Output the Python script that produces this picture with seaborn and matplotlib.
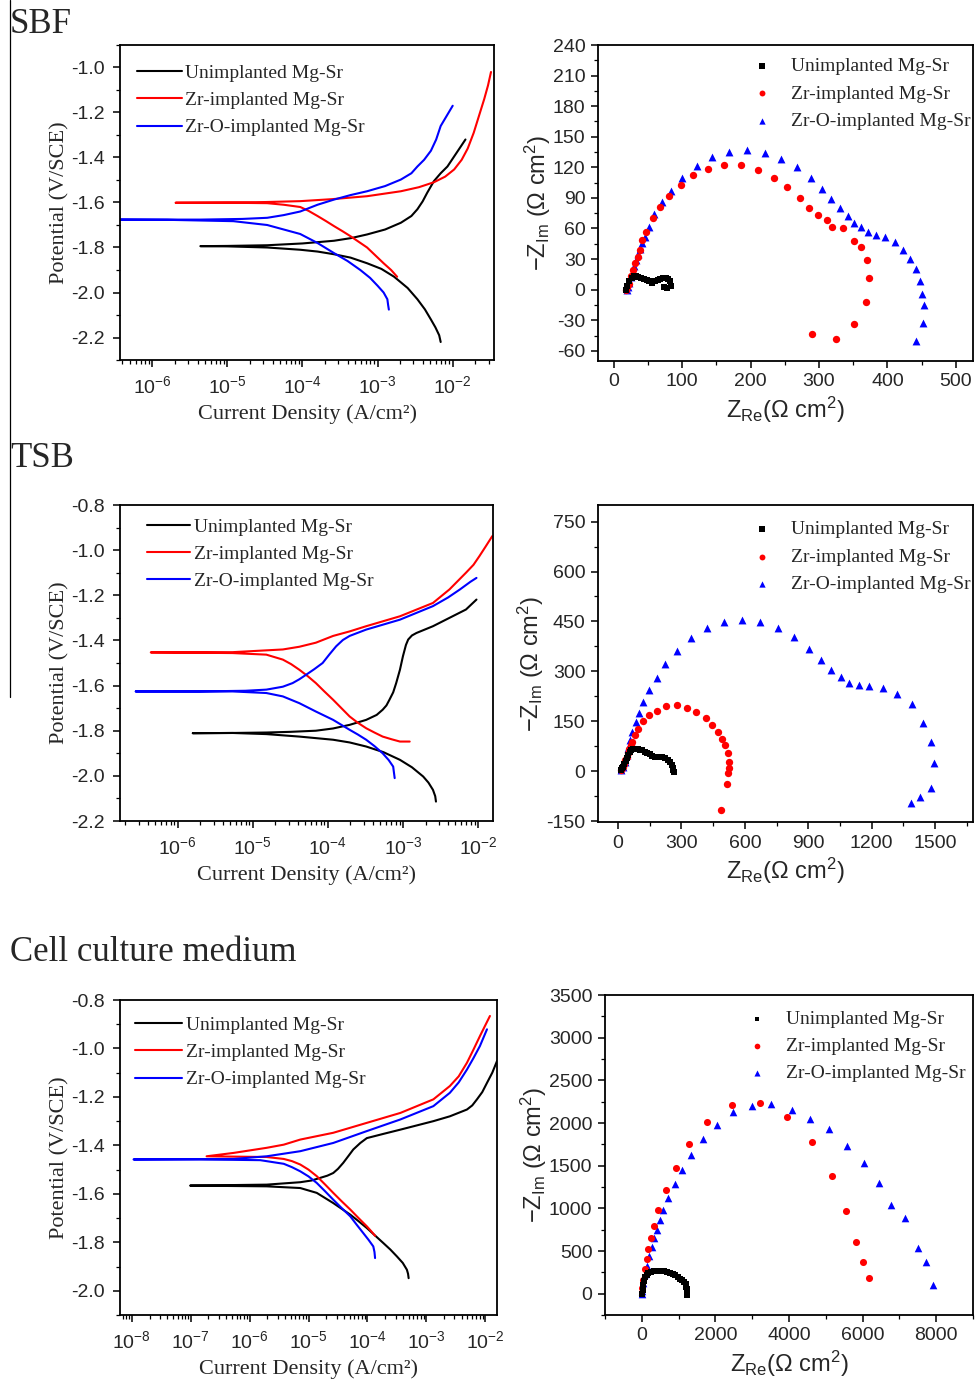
import numpy as np
import pandas as pd
import matplotlib
matplotlib.use('Agg')
import matplotlib.pyplot as plt
import seaborn as sns
from matplotlib.ticker import LogLocator, MultipleLocator, NullFormatter, FormatStrFormatter, FixedLocator
from matplotlib.lines import Line2D

# ---------------- labels ----------------
SERIES = ['Unimplanted Mg-Sr', 'Zr-implanted Mg-Sr', 'Zr-O-implanted Mg-Sr']
COLORS = ['black', 'red', 'blue']
MARKERS = ['s', 'o', '^']
PANEL_TITLES = ['SBF', 'TSB', 'Cell culture medium']
POL_DECADES = [[-6, -5, -4, -3, -2], [-6, -5, -4, -3, -2], [-8, -7, -6, -5, -4, -3, -2]]

# ---------------- polarization curves (log10 current density, potential V/SCE) ----------------
# SBF
SBF_UN_LOGI = [-2.16, -2.18, -2.23, -2.29, -2.37, -2.47, -2.6, -2.78, -2.95, -3.14, -3.36, -3.58, -3.8, -4.03, -4.47, -5.0, -5.36, -5.0, -4.47, -4.0, -3.58, -3.35, -3.14, -2.9, -2.69, -2.55, -2.47, -2.4, -2.34, -2.25, -2.16, -2.07, -1.98, -1.89, -1.83]
SBF_UN_E = [-2.22, -2.19, -2.155, -2.12, -2.075, -2.03, -1.98, -1.93, -1.895, -1.87, -1.845, -1.83, -1.818, -1.81, -1.80, -1.795, -1.794, -1.793, -1.79, -1.782, -1.77, -1.758, -1.742, -1.72, -1.69, -1.66, -1.63, -1.595, -1.557, -1.505, -1.47, -1.44, -1.395, -1.35, -1.32]
SBF_ZR_LOGI = [-2.74, -2.82, -2.92, -3.03, -3.14, -3.25, -3.36, -3.47, -3.58, -3.69, -3.80, -3.92, -4.03, -4.25, -4.47, -5.0, -5.69, -5.0, -4.5, -4.03, -3.6, -3.14, -2.69, -2.45, -2.25, -2.1, -1.98, -1.88, -1.80, -1.72, -1.65, -1.58, -1.53, -1.49]
SBF_ZR_E = [-1.93, -1.90, -1.87, -1.835, -1.80, -1.775, -1.75, -1.727, -1.705, -1.682, -1.66, -1.637, -1.62, -1.61, -1.603, -1.601, -1.601, -1.600, -1.598, -1.594, -1.585, -1.572, -1.55, -1.532, -1.51, -1.485, -1.453, -1.41, -1.36, -1.29, -1.215, -1.14, -1.08, -1.02]
SBF_ZRO_LOGI = [-2.85, -2.86, -2.87, -2.92, -3.0, -3.1, -3.23, -3.4, -3.58, -3.80, -4.03, -4.25, -4.47, -4.92, -5.80, -6.43, -5.80, -5.36, -4.8, -4.47, -4.25, -4.03, -3.80, -3.58, -3.36, -3.14, -2.9, -2.69, -2.55, -2.47, -2.38, -2.29, -2.22, -2.16, -2.08, -2.0]
SBF_ZRO_E = [-2.076, -2.055, -2.03, -2.0, -1.97, -1.935, -1.90, -1.86, -1.825, -1.78, -1.74, -1.72, -1.70, -1.683, -1.677, -1.676, -1.676, -1.676, -1.673, -1.668, -1.656, -1.64, -1.61, -1.587, -1.567, -1.55, -1.527, -1.498, -1.47, -1.44, -1.41, -1.37, -1.32, -1.26, -1.215, -1.17]
# TSB
TSB_UN_LOGI = [-2.56, -2.57, -2.6, -2.66, -2.73, -2.88, -3.04, -3.26, -3.49, -3.71, -3.93, -4.38, -4.82, -5.27, -5.8, -5.27, -4.82, -4.5, -4.16, -3.93, -3.71, -3.49, -3.35, -3.27, -3.22, -3.18, -3.13, -3.09, -3.04, -3.0, -2.96, -2.93, -2.88, -2.82, -2.6, -2.38, -2.16, -2.02]
TSB_UN_E = [-2.114, -2.09, -2.062, -2.03, -2.003, -1.962, -1.929, -1.895, -1.87, -1.852, -1.84, -1.826, -1.815, -1.81, -1.811, -1.81, -1.808, -1.805, -1.80, -1.79, -1.774, -1.752, -1.73, -1.707, -1.688, -1.663, -1.63, -1.589, -1.53, -1.47, -1.42, -1.396, -1.378, -1.367, -1.337, -1.30, -1.263, -1.219]
TSB_ZR_LOGI = [-2.91, -3.04, -3.15, -3.27, -3.38, -3.49, -3.6, -3.71, -3.82, -3.93, -4.05, -4.16, -4.27, -4.38, -4.49, -4.6, -4.82, -5.27, -6.36, -5.27, -4.6, -4.38, -4.16, -3.93, -3.71, -3.49, -3.04, -2.6, -2.38, -2.16, -2.06, -1.98, -1.9, -1.81]
TSB_ZR_E = [-1.848, -1.848, -1.838, -1.826, -1.808, -1.789, -1.765, -1.737, -1.70, -1.663, -1.625, -1.589, -1.558, -1.53, -1.505, -1.485, -1.463, -1.456, -1.453, -1.452, -1.44, -1.428, -1.41, -1.38, -1.36, -1.337, -1.293, -1.234, -1.174, -1.10, -1.065, -1.026, -0.985, -0.938]
TSB_ZRO_LOGI = [-3.11, -3.12, -3.13, -3.19, -3.27, -3.38, -3.49, -3.6, -3.71, -3.82, -3.93, -4.16, -4.38, -4.6, -4.82, -5.27, -6.56, -5.71, -5.1, -4.82, -4.6, -4.47, -4.38, -4.29, -4.18, -4.07, -3.98, -3.89, -3.8, -3.71, -3.49, -3.04, -2.6, -2.4, -2.24, -2.1, -2.02]
TSB_ZRO_E = [-2.01, -1.985, -1.959, -1.93, -1.90, -1.868, -1.84, -1.817, -1.796, -1.774, -1.752, -1.715, -1.678, -1.648, -1.633, -1.626, -1.626, -1.626, -1.623, -1.618, -1.605, -1.589, -1.572, -1.552, -1.527, -1.50, -1.462, -1.426, -1.398, -1.38, -1.352, -1.308, -1.248, -1.21, -1.174, -1.14, -1.123]
# Cell culture medium
CCM_UN_LOGI = [-3.30, -3.31, -3.33, -3.40, -3.50, -3.61, -3.73, -3.87, -4.01, -4.15, -4.29, -4.58, -4.86, -5.14, -5.71, -7.01, -5.71, -5.14, -4.95, -4.80, -4.68, -4.58, -4.5, -4.41, -4.32, -4.24, -4.12, -4.01, -3.72, -3.44, -2.88, -2.60, -2.31, -2.22, -2.14, -2.05, -1.97, -1.88, -1.80]
CCM_UN_E = [-1.948, -1.93, -1.913, -1.885, -1.858, -1.83, -1.803, -1.772, -1.741, -1.713, -1.686, -1.638, -1.596, -1.576, -1.569, -1.566, -1.562, -1.552, -1.545, -1.534, -1.525, -1.514, -1.497, -1.472, -1.443, -1.417, -1.39, -1.37, -1.352, -1.335, -1.30, -1.28, -1.252, -1.235, -1.21, -1.18, -1.142, -1.10, -1.052]
CCM_ZR_LOGI = [-3.87, -3.94, -4.01, -4.15, -4.29, -4.44, -4.58, -4.72, -4.86, -5.0, -5.14, -5.28, -5.42, -5.71, -6.73, -6.27, -5.71, -5.42, -5.14, -4.58, -4.01, -3.44, -2.88, -2.60, -2.45, -2.31, -2.2, -2.09, -2.0, -1.92]
CCM_ZR_E = [-1.773, -1.753, -1.734, -1.70, -1.665, -1.63, -1.596, -1.561, -1.527, -1.50, -1.479, -1.465, -1.456, -1.448, -1.445, -1.431, -1.41, -1.397, -1.376, -1.348, -1.307, -1.266, -1.21, -1.155, -1.115, -1.059, -1.005, -0.949, -0.905, -0.866]
CCM_ZRO_LOGI = [-3.87, -3.88, -3.90, -3.98, -4.07, -4.18, -4.29, -4.44, -4.58, -4.72, -4.86, -5.0, -5.14, -5.28, -5.42, -5.82, -6.84, -7.97, -6.27, -5.71, -5.14, -4.58, -4.01, -3.44, -2.88, -2.60, -2.45, -2.31, -2.2, -2.09, -1.97]
CCM_ZRO_E = [-1.865, -1.84, -1.817, -1.79, -1.762, -1.728, -1.693, -1.658, -1.624, -1.589, -1.555, -1.528, -1.507, -1.49, -1.476, -1.461, -1.458, -1.458, -1.456, -1.445, -1.424, -1.39, -1.341, -1.293, -1.238, -1.183, -1.14, -1.087, -1.04, -0.99, -0.921]

# ---------------- Nyquist data (Z_Re, -Z_Im in Ohm cm^2) ----------------
SBF_UN_ZRE = [18, 20, 23, 26, 29, 32, 36, 40, 44, 48, 52, 56, 60, 64, 68, 72, 76, 80, 82, 78, 74, 84]
SBF_UN_ZIM = [0, 4, 8, 11, 13, 13, 12, 11, 10, 9, 8, 7, 8, 9, 10, 11, 11, 10, 8, 2, 3, 4]
SBF_ZR_ZRE = [18, 20, 22, 25, 28, 31, 35, 38, 42, 47, 57, 68, 81, 98, 116, 138, 161, 186, 211, 234, 253, 272, 286, 298, 311, 319, 335, 351, 361, 370, 373, 369, 351, 325, 290]
SBF_ZR_ZIM = [0, 3, 6, 13, 19, 26, 32, 39, 49, 57, 70, 81, 92, 103, 112, 118, 122, 122, 117, 110, 101, 90, 80, 73, 68, 61, 60, 48, 42, 29, 11, -12, -34, -48, -44]
SBF_ZRO_ZRE = [19, 21, 23, 25, 28, 30, 33, 36, 39, 42, 46, 51, 59, 70, 84, 100, 121, 144, 168, 195, 221, 245, 268, 288, 304, 318, 331, 342, 351, 361, 371, 383, 396, 411, 423, 433, 442, 448, 451, 453, 452, 441]
SBF_ZRO_ZIM = [0, 3, 7, 12, 18, 23, 29, 35, 40, 46, 52, 61, 74, 86, 97, 110, 121, 130, 135, 137, 134, 128, 120, 110, 99, 89, 80, 72, 65, 61, 57, 54, 52, 47, 39, 30, 20, 8, -4, -15, -33, -50]

TSB_UN_ZRE = [16, 20, 24, 30, 36, 42, 47, 55, 63, 72, 80, 92, 103, 115, 126, 138, 150, 162, 174, 186, 197, 209, 221, 237, 248, 257, 260, 262, 264]
TSB_UN_ZIM = [2, 8, 13, 22, 31, 40, 48, 56, 62, 65, 66, 66, 64, 62, 58, 54, 50, 46, 42, 42, 43, 41, 38, 34, 28, 18, 8, 2, -2]
TSB_ZR_ZRE = [16, 22, 27, 33, 40, 46, 52, 59, 66, 79, 95, 118, 147, 186, 229, 281, 327, 371, 414, 446, 474, 493, 507, 518, 523, 524, 518, 516, 486]
TSB_ZR_ZIM = [2, 12, 22, 32, 42, 54, 65, 77, 89, 109, 126, 150, 169, 182, 197, 199, 189, 177, 161, 138, 117, 98, 78, 53, 28, 8, -5, -40, -118]
TSB_ZRO_ZRE = [16, 24, 32, 40, 47, 55, 68, 84, 100, 118, 147, 182, 224, 280, 344, 420, 500, 587, 674, 756, 835, 903, 960, 1007, 1053, 1093, 1142, 1189, 1255, 1322, 1393, 1442, 1481, 1497, 1481, 1429, 1386]
TSB_ZRO_ZIM = [2, 13, 28, 48, 68, 93, 118, 149, 174, 209, 244, 279, 322, 362, 400, 430, 447, 453, 447, 430, 403, 367, 333, 305, 282, 264, 258, 256, 251, 232, 201, 146, 89, 23, -50, -78, -95]

CCM_UN_ZRE = [5, 20, 40, 60, 90, 130, 180, 250, 330, 420, 510, 600, 680, 760, 840, 910, 980, 1040, 1100, 1150, 1190, 1210, 1220, 1230, 1235]
CCM_UN_ZIM = [0, 40, 100, 150, 190, 220, 240, 255, 262, 265, 265, 262, 255, 245, 232, 215, 195, 175, 155, 135, 110, 80, 50, 20, -10]
CCM_ZR_ZRE = [18, 45, 90, 136, 181, 244, 335, 452, 651, 922, 1284, 1781, 2441, 3209, 3950, 4628, 5171, 5559, 5812, 6011, 6174]
CCM_ZR_ZIM = [67, 166, 292, 410, 521, 647, 797, 986, 1211, 1468, 1756, 2008, 2210, 2229, 2072, 1772, 1377, 963, 600, 371, 185]
CCM_ZRO_ZRE = [5, 18, 45, 90, 136, 199, 271, 335, 407, 497, 588, 723, 904, 1094, 1329, 1654, 2034, 2468, 2992, 3498, 4068, 4583, 5089, 5586, 6038, 6445, 6762, 7159, 7503, 7711, 7910]
CCM_ZRO_ZIM = [0, 28, 126, 225, 324, 442, 548, 647, 746, 864, 975, 1125, 1282, 1448, 1626, 1811, 1981, 2127, 2198, 2218, 2158, 2052, 1930, 1732, 1527, 1302, 1034, 884, 540, 375, 107]

# ---------------- style ----------------
sns.set_style('ticks')
plt.rcParams['font.family'] = ['Liberation Sans', 'DejaVu Sans']
plt.rcParams['mathtext.fontset'] = 'custom'
plt.rcParams['mathtext.rm'] = 'Liberation Sans'
plt.rcParams['mathtext.it'] = 'Liberation Sans:italic'
plt.rcParams['mathtext.bf'] = 'Liberation Sans:bold'
plt.rcParams['axes.unicode_minus'] = False
SERIF = ['Liberation Serif', 'DejaVu Serif']

W, H = 976, 1387
fig = plt.figure(figsize=(W / 100, H / 100), dpi=100)
fig.patch.set_facecolor('white')


def rect(l, r, t, b):
    return [l / W, 1 - b / H, (r - l) / W, (b - t) / H]


def style_axes(ax, pad):
    for s in ax.spines.values():
        s.set_linewidth(1.3)
        s.set_color('black')
    ax.tick_params(which='major', direction='out', length=5, width=1.1, labelsize=14,
                   color='black', pad=pad)
    ax.tick_params(which='minor', direction='out', length=3, width=0.9, color='black')
    ax.tick_params(top=False, right=False)


def pol_frame(logi, e, name):
    return pd.DataFrame({'i': np.power(10.0, np.array(logi)), 'E': e, 'series': name})


def nyq_frame(zre, zim, name):
    return pd.DataFrame({'Zre': zre, 'Zim': zim, 'series': name})


pol_sets = [
    [(SBF_UN_LOGI, SBF_UN_E), (SBF_ZR_LOGI, SBF_ZR_E), (SBF_ZRO_LOGI, SBF_ZRO_E)],
    [(TSB_UN_LOGI, TSB_UN_E), (TSB_ZR_LOGI, TSB_ZR_E), (TSB_ZRO_LOGI, TSB_ZRO_E)],
    [(CCM_UN_LOGI, CCM_UN_E), (CCM_ZR_LOGI, CCM_ZR_E), (CCM_ZRO_LOGI, CCM_ZRO_E)],
]
nyq_sets = [
    [(SBF_UN_ZRE, SBF_UN_ZIM), (SBF_ZR_ZRE, SBF_ZR_ZIM), (SBF_ZRO_ZRE, SBF_ZRO_ZIM)],
    [(TSB_UN_ZRE, TSB_UN_ZIM), (TSB_ZR_ZRE, TSB_ZR_ZIM), (TSB_ZRO_ZRE, TSB_ZRO_ZIM)],
    [(CCM_UN_ZRE, CCM_UN_ZIM), (CCM_ZR_ZRE, CCM_ZR_ZIM), (CCM_ZRO_ZRE, CCM_ZRO_ZIM)],
]

pol_rects = [rect(120, 494, 45, 360), rect(120, 493, 505, 821), rect(120, 497, 1000, 1315)]
nyq_rects = [rect(598, 973, 45, 361), rect(598, 973, 505, 822), rect(605, 973, 995, 1315)]

pol_xlims = [(10 ** -6.43, 10 ** -1.45), (10 ** -6.77, 10 ** -1.8), (10 ** -8.2, 10 ** -1.8)]
pol_ylims = [(-2.3, -0.9), (-2.2, -0.8), (-2.1, -0.8)]
pol_yticks = [np.arange(-2.2, -0.95, 0.2), np.arange(-2.2, -0.75, 0.2), np.arange(-2.0, -0.75, 0.2)]
pol_leg = [(0.045, 0.939), (0.072, 0.959), (0.040, 0.949)]
pol_hlen = [2.3, 2.2, 2.4]

nyq_xlims = [(-23, 525), (-95, 1680), (-1000, 9000)]
nyq_ylims = [(-70, 240), (-153, 800), (-250, 3500)]
nyq_xmaj = [100, 300, 2000]
nyq_ymaj = [30, 150, 500]
nyq_xticks = [np.arange(0, 501, 100), np.arange(0, 1501, 300), np.arange(0, 8001, 2000)]
nyq_yticks = [np.arange(-60, 241, 30), np.arange(-150, 751, 150), np.arange(0, 3501, 500)]
nyq_leg = [(0.405, 0.960), (0.405, 0.950), (0.380, 0.953)]
nyq_msize = [[24, 28, 32], [24, 28, 32], [20, 26, 30]]

for k in range(3):
    # ---------- polarization ----------
    ax = fig.add_axes(pol_rects[k])
    ax.set_xscale('log')
    for j in range(3):
        df = pol_frame(pol_sets[k][j][0], pol_sets[k][j][1], SERIES[j])
        sns.lineplot(data=df, x='i', y='E', sort=False, estimator=None, color=COLORS[j],
                     lw=1.5, ax=ax, label=SERIES[j])
    ax.set_xlim(*pol_xlims[k])
    ax.set_ylim(*pol_ylims[k])
    ax.set_yticks(pol_yticks[k])
    ax.yaxis.set_major_formatter(FormatStrFormatter('%.1f'))
    ax.yaxis.set_minor_locator(MultipleLocator(0.1))
    dec = POL_DECADES[k]
    ax.xaxis.set_major_locator(FixedLocator([10.0 ** d for d in dec]))
    lo, hi = pol_xlims[k]
    minors = [m * 10.0 ** d for d in range(dec[0] - 1, dec[-1] + 1) for m in range(2, 10)
              if lo <= m * 10.0 ** d <= hi]
    ax.xaxis.set_minor_locator(FixedLocator(minors))
    ax.xaxis.set_minor_formatter(NullFormatter())
    style_axes(ax, 6)
    ax.set_xlabel('Current Density (A/cm²)', fontsize=16, family=SERIF, labelpad=5)
    ax.set_ylabel('Potential (V/SCE)', fontsize=16, family=SERIF, labelpad=1)
    ax.legend(loc='upper left', bbox_to_anchor=pol_leg[k], frameon=False, borderpad=0,
              borderaxespad=0, handlelength=pol_hlen[k], handletextpad=0.2, labelspacing=0.5,
              prop={'family': SERIF, 'size': 14})

    # ---------- Nyquist ----------
    ax2 = fig.add_axes(nyq_rects[k])
    for j in range(3):
        df = nyq_frame(nyq_sets[k][j][0], nyq_sets[k][j][1], SERIES[j])
        sns.scatterplot(data=df, x='Zre', y='Zim', marker=MARKERS[j], color=COLORS[j],
                        s=nyq_msize[k][j], linewidth=0, ax=ax2, label=SERIES[j], zorder=3 - j)
    ax2.set_xlim(*nyq_xlims[k])
    ax2.set_ylim(*nyq_ylims[k])
    ax2.set_xticks(nyq_xticks[k])
    ax2.set_yticks(nyq_yticks[k])
    ax2.xaxis.set_minor_locator(MultipleLocator(nyq_xmaj[k] / 2))
    ax2.yaxis.set_minor_locator(MultipleLocator(nyq_ymaj[k] / 2))
    style_axes(ax2, 4)
    ax2.set_xlabel(r'$\mathregular{Z_{Re}(\Omega\ cm^2)}$', fontsize=17, labelpad=3)
    ax2.set_ylabel(r'$\mathregular{-Z_{Im}\ (\Omega\ cm^2)}$', fontsize=17, labelpad=0)
    ax2.legend(loc='upper left', bbox_to_anchor=nyq_leg[k], frameon=False, borderpad=0,
               borderaxespad=0, handlelength=1.2, handletextpad=0.9, labelspacing=0.5,
               markerscale=0.8, prop={'family': SERIF, 'size': 14})

# panel titles
fig.text(10 / W, 1 - 33 / H, PANEL_TITLES[0], fontsize=25, family=SERIF, va='baseline', ha='left')
fig.text(10 / W, 1 - 467 / H, PANEL_TITLES[1], fontsize=25, family=SERIF, va='baseline', ha='left')
fig.text(10 / W, 1 - 961 / H, PANEL_TITLES[2], fontsize=25, family=SERIF, va='baseline', ha='left')

# thin vertical rule at the left edge
fig.add_artist(Line2D([10 / W, 10 / W], [1.0, 1 - 697 / H], transform=fig.transFigure,
                      color='black', lw=0.9))

fig.savefig('out.png', dpi=100, facecolor='white')
